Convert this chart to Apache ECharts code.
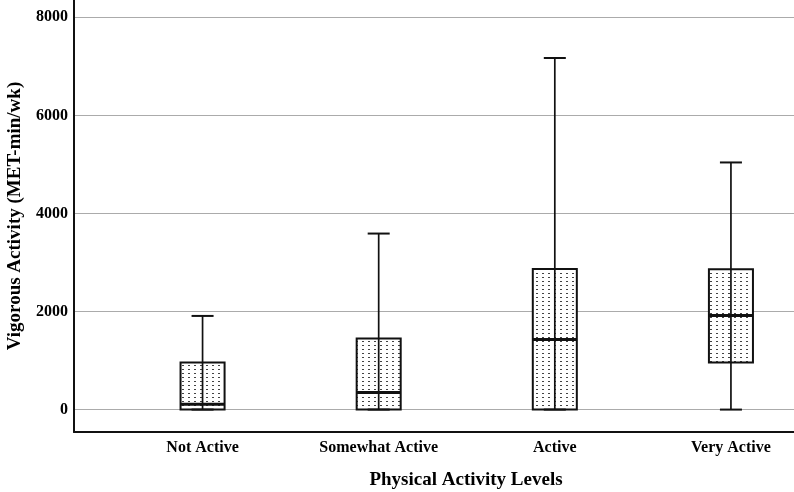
<!DOCTYPE html>
<html>
<head>
<meta charset="utf-8">
<title>Vigorous Activity by Physical Activity Level</title>
<style>
  html, body { margin: 0; padding: 0; background: #fff; }
  #container { width: 794px; height: 492px; }
</style>
</head>
<body>
<div id="container"></div>
<script src="https://cdn.jsdelivr.net/npm/echarts@6/dist/echarts.min.js"></script>
<script>
'use strict';

// data
var categories = ['Not Active', 'Somewhat Active', 'Active', 'Very Active'];
var mins    = [0, 0, 0, 0];
var q1s     = [0, 0, 0, 960];
var medians = [110, 350, 1430, 1920];
var q3s     = [960, 1450, 2865, 2860];
var maxs    = [1910, 3590, 7170, 5040];
var yTicks  = [0, 2000, 4000, 6000, 8000];

var boxData = categories.map(function (c, i) {
  return [i, mins[i], q1s[i], medians[i], q3s[i], maxs[i]];
});

// dotted fill like the SPSS pattern
var dots = document.createElement('canvas');
dots.width = 6;
dots.height = 4;
var ctx = dots.getContext('2d');
ctx.fillStyle = '#fff';
ctx.fillRect(0, 0, 6, 4);
ctx.fillStyle = '#444';
ctx.fillRect(2, 1, 2, 1);

var font = 'Liberation Serif';
var yMin = -457, yMax = 8353;

var chart = echarts.init(document.getElementById('container'));

function renderBox(params, api) {
  var i = api.value(0);
  var bw = api.size([1, 0])[0] * 0.25;
  var pMin = api.coord([i, api.value(1)]);
  var pQ1 = api.coord([i, api.value(2)]);
  var pMed = api.coord([i, api.value(3)]);
  var pQ3 = api.coord([i, api.value(4)]);
  var pMax = api.coord([i, api.value(5)]);
  var cx = pMed[0];
  var cap = bw / 2;
  return {
    type: 'group',
    children: [
      {
        type: 'rect',
        shape: { x: cx - bw / 2, y: pQ3[1], width: bw, height: pQ1[1] - pQ3[1] },
        style: { fill: { image: dots, repeat: 'repeat' }, stroke: '#111', lineWidth: 2 }
      },
      {
        type: 'line',
        shape: { x1: cx, y1: pMin[1], x2: cx, y2: pMax[1] },
        style: { stroke: '#111', lineWidth: 1.7 }
      },
      {
        type: 'line',
        shape: { x1: cx - bw / 2, y1: pMed[1], x2: cx + bw / 2, y2: pMed[1] },
        style: { stroke: '#111', lineWidth: 3 }
      },
      {
        type: 'line',
        shape: { x1: cx - cap / 2, y1: pMax[1], x2: cx + cap / 2, y2: pMax[1] },
        style: { stroke: '#111', lineWidth: 2 }
      },
      {
        type: 'line',
        shape: { x1: cx - cap / 2, y1: pMin[1], x2: cx + cap / 2, y2: pMin[1] },
        style: { stroke: '#111', lineWidth: 2 }
      }
    ]
  };
}

var option = {
  backgroundColor: '#fff',
  animation: false,
  grid: [
    // frame: axes lines and gridlines
    { left: 74, right: 0, top: 0, bottom: 60, outerBoundsMode: 'none' },
    // boxes: category bands as spaced in the picture
    { left: 114.5, right: -25, top: 0, bottom: 60, outerBoundsMode: 'none' }
  ],
  xAxis: [
    {
      type: 'value', gridIndex: 0, min: 0, max: 1,
      axisLine: { onZero: false, lineStyle: { color: '#111', width: 2 } },
      axisTick: { show: false },
      axisLabel: { show: false },
      splitLine: { show: false },
      name: 'Physical Activity Levels',
      nameLocation: 'middle',
      nameGap: 39,
      nameTextStyle: { fontFamily: font, fontWeight: 'bold', fontSize: 19, color: '#000', padding: [0, 0, 0, 64] }
    },
    {
      type: 'category', gridIndex: 1, data: categories,
      axisLine: { show: false },
      axisTick: { show: false },
      axisLabel: { margin: 8, fontFamily: font, fontWeight: 'bold', fontSize: 16, color: '#000' }
    }
  ],
  yAxis: [
    {
      type: 'value', gridIndex: 0, min: yMin, max: yMax,
      axisLine: { show: true, onZero: false, lineStyle: { color: '#111', width: 2 } },
      axisTick: { show: false, customValues: yTicks },
      axisLabel: {
        customValues: yTicks, margin: 6,
        formatter: function (v) { return String(v); },
        fontFamily: font, fontWeight: 'bold', fontSize: 16, color: '#000'
      },
      splitLine: { show: true, lineStyle: { color: '#ababab', width: 1 } },
      name: 'Vigorous Activity (MET-min/wk)',
      nameLocation: 'middle',
      nameGap: 49,
      nameTextStyle: { fontFamily: font, fontWeight: 'bold', fontSize: 19, color: '#000' }
    },
    {
      type: 'value', gridIndex: 1, min: yMin, max: yMax, show: false
    }
  ],
  series: [{
    type: 'custom',
    xAxisIndex: 1,
    yAxisIndex: 1,
    renderItem: renderBox,
    encode: { x: 0, y: [1, 2, 3, 4, 5] },
    data: boxData
  }]
};
chart.setOption(option);
</script>
</body>
</html>
